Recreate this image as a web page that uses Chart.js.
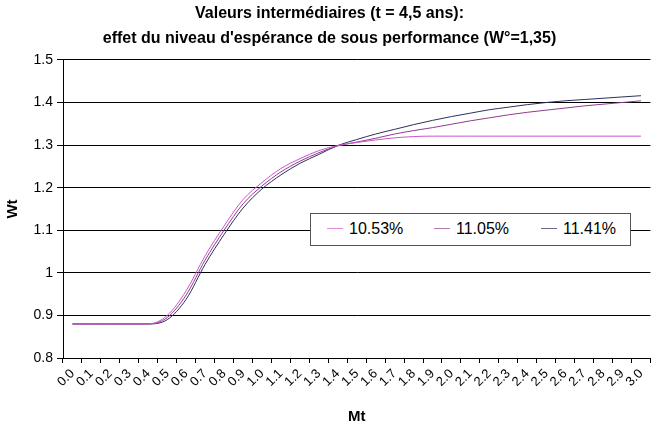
<!DOCTYPE html>
<html>
<head>
<meta charset="utf-8">
<script src="https://cdn.jsdelivr.net/npm/chart.js@4.4.1/dist/chart.umd.min.js"></script>
<style>
  body { margin: 0; background: #fff; }
  #wrap { position: relative; width: 655px; height: 430px; }
  #legendBox {
    position: absolute; left: 310px; top: 213px; width: 319px; height: 31px;
    background: #fff; border: 1px solid #555;
    font-family: "Liberation Sans", Arial, sans-serif; font-size: 16px; color: #000;
  }
  #legendBox span.item { position: absolute; top: 6px; white-space: nowrap; }
  #legendBox i { display: inline-block; width: 16px; height: 1px; vertical-align: middle; margin-right: 6px; margin-top: -2px; }
</style>
</head>
<body>
<div id="wrap">
  <canvas id="myChartArea" width="655" height="430"></canvas>
  <div id="legendBox"></div>
</div>
<script>
// Mt categories 0.0 .. 3.0
var mt = ['0.0','0.1','0.2','0.3','0.4','0.5','0.6','0.7','0.8','0.9',
          '1.0','1.1','1.2','1.3','1.4','1.5','1.6','1.7','1.8','1.9',
          '2.0','2.1','2.2','2.3','2.4','2.5','2.6','2.7','2.8','2.9','3.0'];

// Wt for each expected under-performance level
var wt_1053 = [0.88, 0.88, 0.88, 0.88, 0.88, 0.900, 0.958, 1.040, 1.110, 1.172,
               1.212, 1.245, 1.268, 1.287, 1.299, 1.306, 1.312, 1.317, 1.320, 1.321,
               1.321, 1.321, 1.321, 1.321, 1.321, 1.321, 1.321, 1.321, 1.321, 1.321, 1.321];
var wt_1105 = [0.88, 0.88, 0.88, 0.88, 0.88, 0.895, 0.948, 1.030, 1.100, 1.162,
               1.204, 1.237, 1.262, 1.282, 1.298, 1.307, 1.316, 1.326, 1.334, 1.341,
               1.349, 1.357, 1.364, 1.371, 1.377, 1.382, 1.387, 1.392, 1.396, 1.400, 1.404];
var wt_1141 = [0.88, 0.88, 0.88, 0.88, 0.88, 0.890, 0.938, 1.020, 1.090, 1.152,
               1.197, 1.230, 1.257, 1.278, 1.299, 1.313, 1.326, 1.337, 1.348, 1.358,
               1.367, 1.375, 1.383, 1.389, 1.395, 1.400, 1.404, 1.407, 1.410, 1.413, 1.416];

var seriesNames = ['10.53%', '11.05%', '11.41%'];
var seriesColors = ['#cc55cc', '#8e3c8e', '#2e2e5c'];
var legendSwatch = ['#e08ae0', '#b07ab0', '#6a6a8a'];

var font = '"Liberation Sans", Arial, sans-serif';
Chart.defaults.font.family = font;
Chart.defaults.color = '#000';

var sets = [wt_1053, wt_1105, wt_1141].map(function (vals, i) {
    return {
        label: seriesNames[i],
        data: vals,
        borderColor: seriesColors[i],
        backgroundColor: seriesColors[i],
        borderWidth: 1,
        pointRadius: 0,
        cubicInterpolationMode: 'monotone',
        fill: false
    };
});

var ctx = document.getElementById('myChartArea');
var chart = new Chart(ctx, {
    type: 'line',
    data: { labels: mt, datasets: sets },
    options: {
        responsive: false,
        animation: false,
        layout: { padding: { left: 4, right: 0, top: 0, bottom: 0 } },
        plugins: {
            legend: { display: false },
            tooltip: { enabled: false },
            title: {
                display: true,
                text: ['Valeurs intermédiaires (t = 4,5 ans):',
                       "effet du niveau d'espérance de sous performance (W°=1,35)"],
                font: { size: 16, weight: 'bold', lineHeight: 1.56 },
                padding: { top: 1, bottom: 9 },
                color: '#000'
            }
        },
        scales: {
            x: {
                offset: true,
                title: { display: true, text: 'Mt', font: { size: 15, weight: 'bold' }, padding: { top: 0, bottom: 4 } },
                ticks: { autoSkip: false, maxRotation: 45, minRotation: 45, font: { size: 13 }, padding: 3 },
                grid: { offset: true, drawOnChartArea: false, drawTicks: true, tickLength: 5, color: '#000' },
                border: { display: true, color: '#000' },
                afterFit: function (s) { s.height = 72; }
            },
            y: {
                min: 0.8, max: 1.5,
                title: { display: true, text: 'Wt', font: { size: 15, weight: 'bold' }, padding: { top: 0, bottom: 2 } },
                ticks: {
                    stepSize: 0.1, font: { size: 14 }, padding: 4,
                    callback: function (v) { return String(Math.round(v * 10) / 10); }
                },
                grid: { color: '#000', lineWidth: 1, tickLength: 6 },
                border: { display: true, color: '#000' },
                afterFit: function (s) { s.width = 59; }
            }
        }
    }
});

// legend drawn as a boxed row inside the plot
var box = document.getElementById('legendBox');
var lefts = [16, 123, 230];
sets.forEach(function (d, i) {
    var sp = document.createElement('span');
    sp.className = 'item';
    sp.style.left = lefts[i] + 'px';
    sp.innerHTML = '<i style="background:' + legendSwatch[i] + '"></i>' + d.label;
    box.appendChild(sp);
});
</script>
</body>
</html>
